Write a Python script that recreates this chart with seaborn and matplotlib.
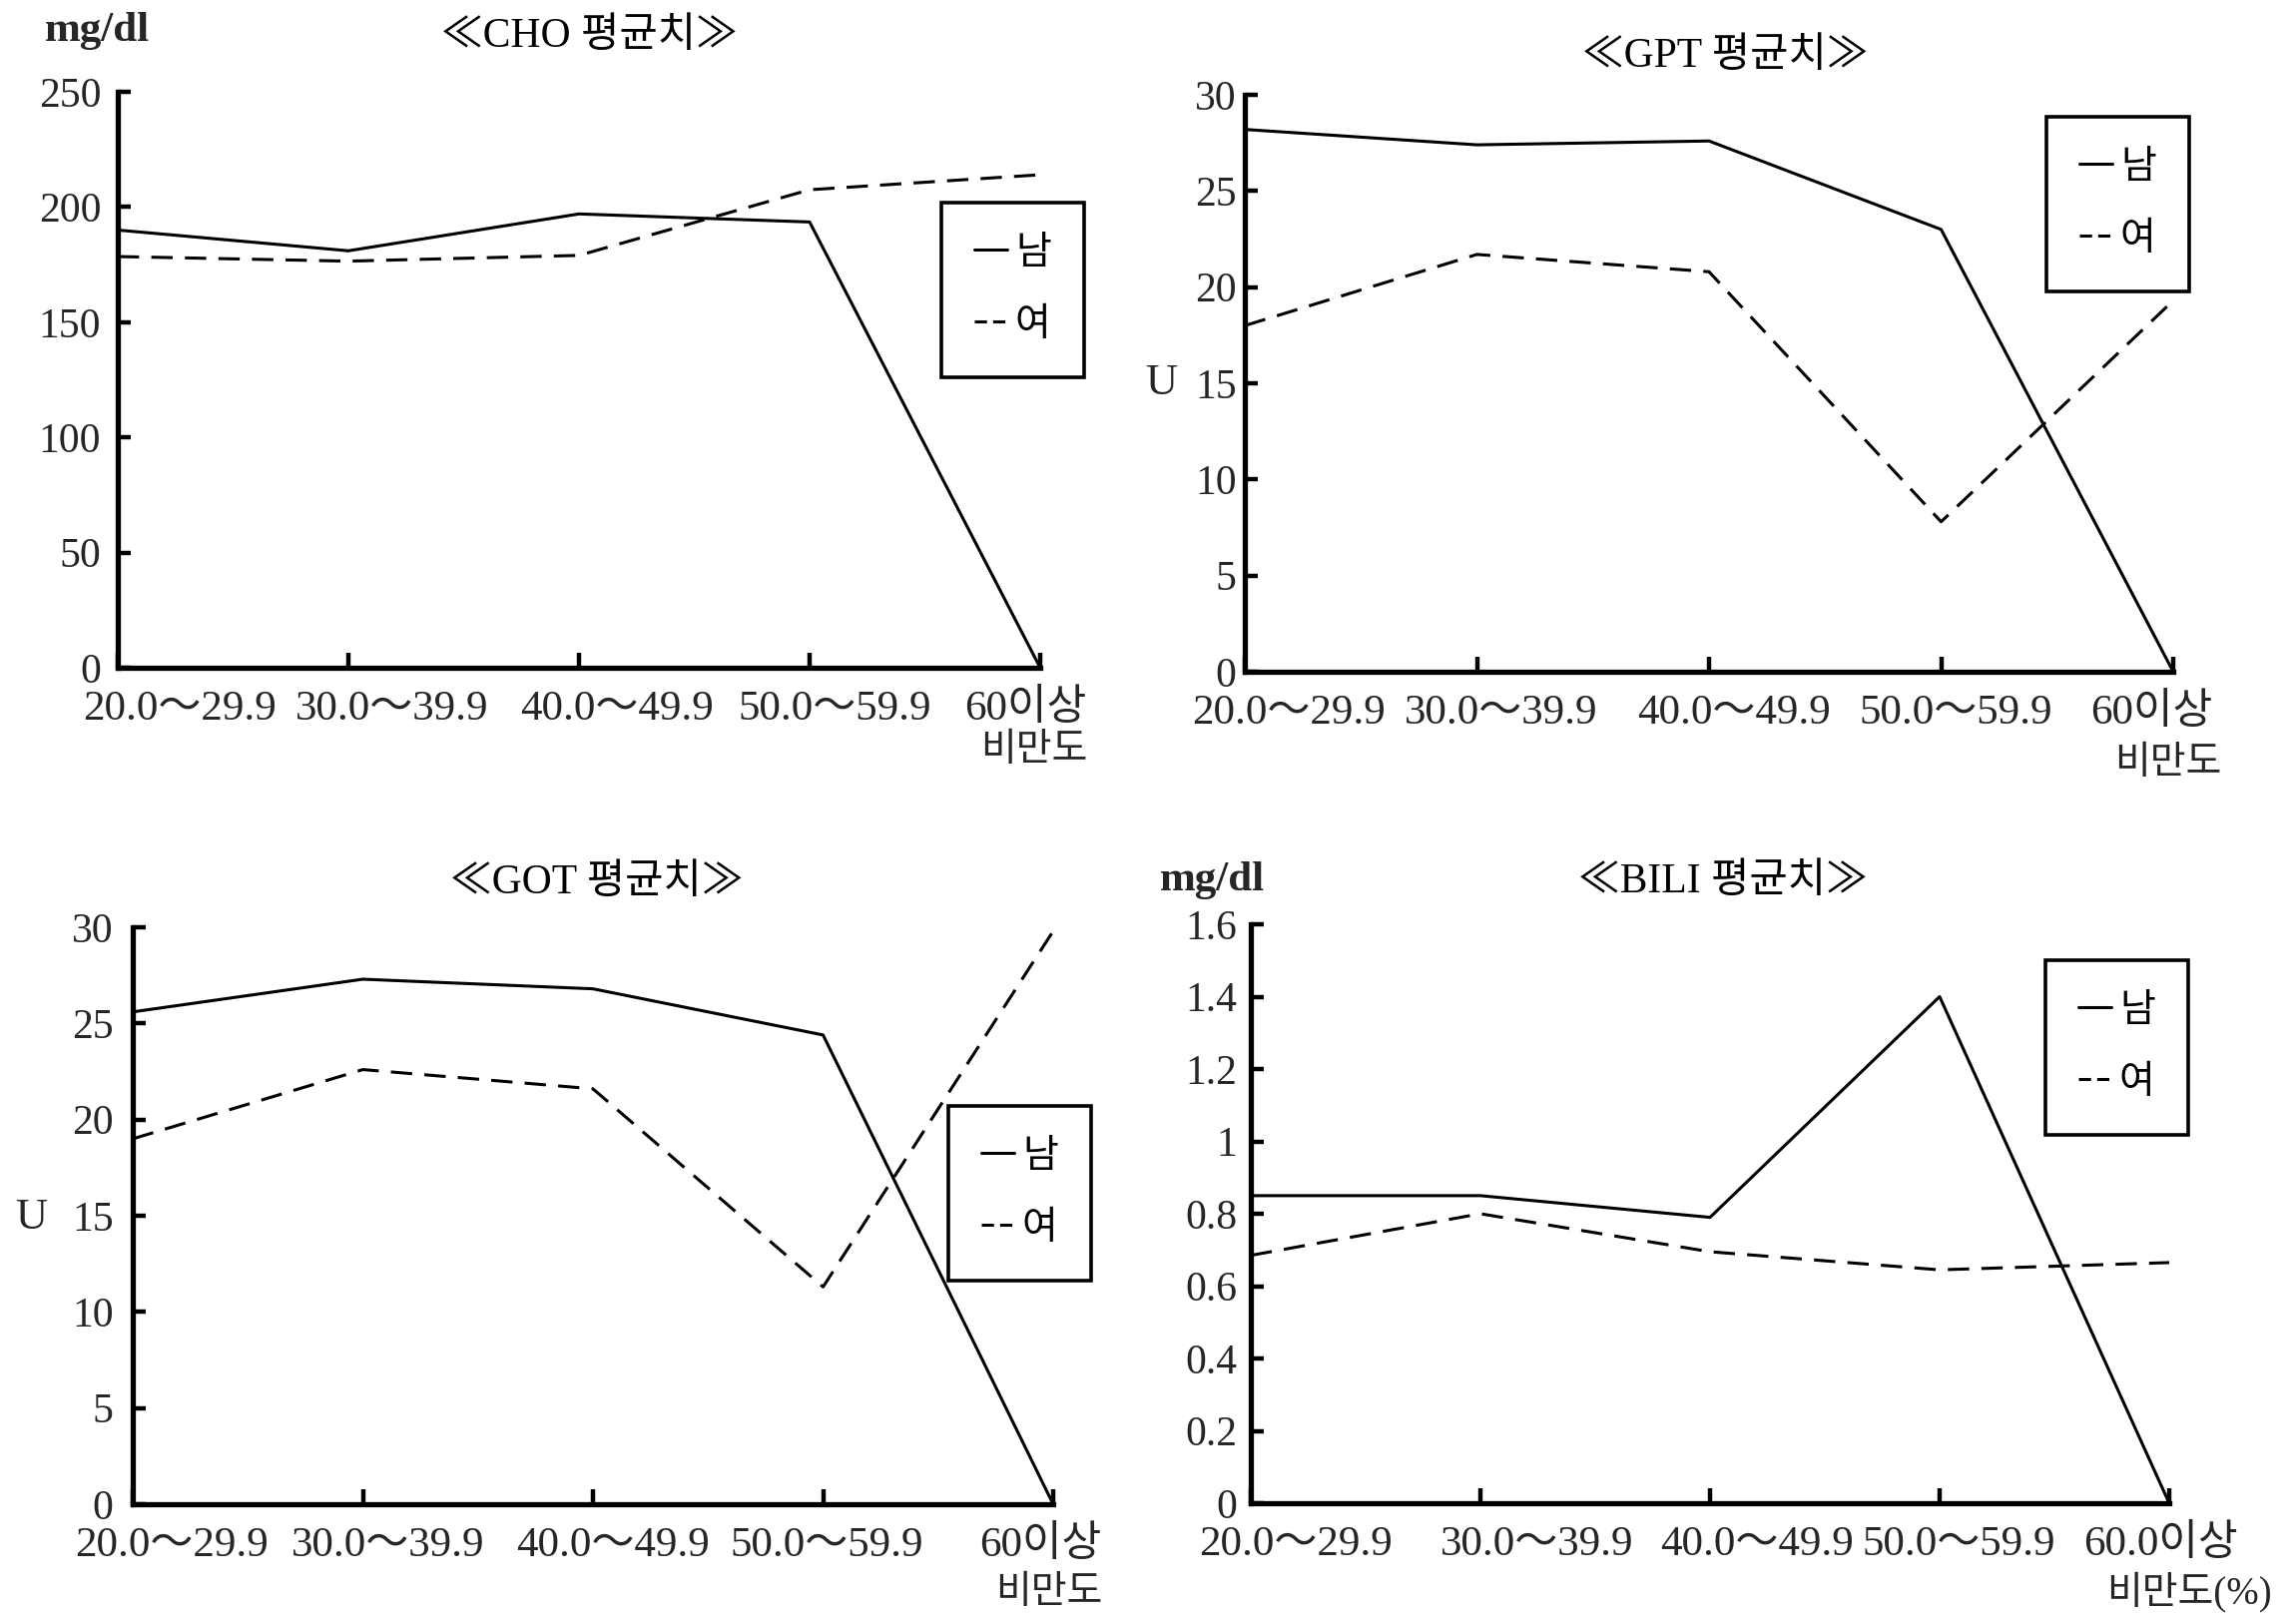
import matplotlib
matplotlib.use('Agg')
import matplotlib.pyplot as plt
import matplotlib.transforms as mtransforms
import seaborn as sns
import pandas as pd

# ---------------- data ----------------
categories = ['20.0～29.9', '30.0～39.9', '40.0～49.9', '50.0～59.9', '60이상']
bili_categories = ['20.0～29.9', '30.0～39.9', '40.0～49.9', '50.0～59.9', '60.0이상']
sexes = ['남', '여']

cho_male = [190, 181, 197, 193.5, 0]
cho_female = [178.5, 176.5, 179, 207.5, 214]
gpt_male = [28.2, 27.4, 27.6, 23.0, 0]
gpt_female = [18.0, 21.7, 20.8, 7.8, 19.3]
got_male = [25.6, 27.3, 26.8, 24.4, 0]
got_female = [19.0, 22.6, 21.6, 11.3, 29.8]
bili_male = [0.85, 0.85, 0.79, 1.40, 0]
bili_female = [0.685, 0.80, 0.695, 0.645, 0.665]

titles = ['≪CHO 평균치≫', '≪GPT 평균치≫', '≪GOT 평균치≫', '≪BILI 평균치≫']
units = ['mg/dl', 'U', 'U', 'mg/dl']
xlabels = ['비만도', '비만도', '비만도', '비만도(%)']
cho_ticks = [0, 50, 100, 150, 200, 250]
u_ticks = [0, 5, 10, 15, 20, 25, 30]
bili_ticks = [0, 0.2, 0.4, 0.6, 0.8, 1.0, 1.2, 1.4, 1.6]
bili_ticklabels = ['0', '0.2', '0.4', '0.6', '0.8', '1', '1.2', '1.4', '1.6']

# ---------------- style ----------------
sns.set_theme(style='white')
FAM = ['Liberation Serif', 'Noto Sans CJK KR', 'DejaVu Sans']
plt.rcParams['font.family'] = FAM
plt.rcParams['axes.unicode_minus'] = False

W, H = 2300, 1619
fig = plt.figure(figsize=(23, 16.19), dpi=100)
fig.patch.set_facecolor('white')


def rect(l, r, t, b):
    return [l / W, 1 - b / H, (r - l) / W, (b - t) / H]


panels = [
    dict(male=cho_male, female=cho_female, cats=categories, ticks=cho_ticks,
         ticklabels=[str(t) for t in cho_ticks], ymax=250,
         rect=rect(118, 1042, 92, 669), title_xy=(0.511, 1.095),
         unit_xy=(97, 31), unit_bold=True,
         xlab_xy=(1089, 752), legend_xy=(943, 203), ypad=12,
         xoff=[62, 44, 38, 25, -15]),
    dict(male=gpt_male, female=gpt_female, cats=categories, ticks=u_ticks,
         ticklabels=[str(t) for t in u_ticks], ymax=30,
         rect=rect(1247, 2177, 95, 673), title_xy=(0.517, 1.067),
         unit_xy=(1163, 384), unit_bold=False,
         xlab_xy=(2225, 765), legend_xy=(2050, 117), ypad=6,
         xoff=[44, 24, 25, 15, -22]),
    dict(male=got_male, female=got_female, cats=categories, ticks=u_ticks,
         ticklabels=[str(t) for t in u_ticks], ymax=30,
         rect=rect(133, 1055, 929, 1507), title_xy=(0.504, 1.076),
         unit_xy=(31, 1220), unit_bold=False,
         xlab_xy=(1104, 1596), legend_xy=(950, 1108), ypad=14,
         xoff=[39, 25, 20, 4, -13]),
    dict(male=bili_male, female=bili_female, cats=bili_categories, ticks=bili_ticks,
         ticklabels=bili_ticklabels, ymax=1.6,
         rect=rect(1253, 2173, 926, 1506), title_xy=(0.514, 1.072),
         unit_xy=(1214, 882), unit_bold=True,
         xlab_xy=(2276, 1595), legend_xy=(2049, 962), ypad=10,
         xoff=[45, 57, 47, 19, -9]),
]

for i, p in enumerate(panels):
    ax = fig.add_axes(p['rect'])
    df = pd.DataFrame({
        '비만도': p['cats'] * 2,
        '성별': [sexes[0]] * len(p['cats']) + [sexes[1]] * len(p['cats']),
        'value': list(p['male']) + list(p['female']),
    })
    sns.lineplot(data=df, x='비만도', y='value', hue='성별', style='성별',
                 palette={'남': 'black', '여': 'black'},
                 dashes={'남': '', '여': (7, 4)}, linewidth=2.2,
                 sort=False, ax=ax, legend=True)
    ax.set_xlim(0, len(p['cats']) - 1)
    ax.set_ylim(0, p['ymax'])
    ax.set_xlabel('')
    ax.set_ylabel('')
    ax.set_facecolor('white')
    for s in ['top', 'right']:
        ax.spines[s].set_visible(False)
    for s in ['left', 'bottom']:
        ax.spines[s].set_visible(True)
        ax.spines[s].set_color('black')
        ax.spines[s].set_linewidth(3.8)

    ax.set_yticks(p['ticks'])
    ax.set_yticklabels(p['ticklabels'], fontsize=30, family=FAM)
    ax.set_xticks(range(len(p['cats'])))
    ax.set_xticklabels(p['cats'], fontsize=31, family=FAM)
    ax.tick_params(axis='y', direction='in', length=9, width=3.2, color='black',
                   pad=p['ypad'], left=True)
    ax.tick_params(axis='x', direction='in', length=11, width=3.2, color='black',
                   pad=16, bottom=True)
    for lab, dx in zip(ax.get_xticklabels(), p['xoff']):
        lab.set_transform(lab.get_transform() +
                          mtransforms.ScaledTranslation(dx / 100, 0, fig.dpi_scale_trans))

    ax.set_title(titles[i], x=p['title_xy'][0], y=p['title_xy'][1], pad=0,
                 va='center', fontsize=30, family=FAM, color='black')

    fig.text(p['unit_xy'][0] / W, 1 - p['unit_xy'][1] / H, units[i],
             ha='center', va='center', fontsize=31 if p['unit_bold'] else 32,
             fontweight='bold' if p['unit_bold'] else 'normal', family=FAM)
    fig.text(p['xlab_xy'][0] / W, 1 - p['xlab_xy'][1] / H, xlabels[i],
             ha='right', va='center', fontsize=28, family=FAM)

    handles, labels = ax.get_legend_handles_labels()
    leg = ax.legend(handles, labels, loc='upper left',
                    bbox_to_anchor=(p['legend_xy'][0] / W, 1 - p['legend_xy'][1] / H),
                    bbox_transform=fig.transFigure, borderaxespad=0,
                    frameon=True, fancybox=False, framealpha=1,
                    edgecolor='black', borderpad=0.85,
                    labelspacing=0.9, handlelength=0.85, handletextpad=0.2,
                    prop={'family': FAM, 'size': 28})
    leg.get_frame().set_linewidth(2.6)
    leg_lines = leg.get_lines()
    if len(leg_lines) > 1:
        leg_lines[1].set_dashes((4, 2))
    for t in leg.get_texts():
        t.set_color('black')

fig.savefig('out.png', dpi=100, facecolor='white')
